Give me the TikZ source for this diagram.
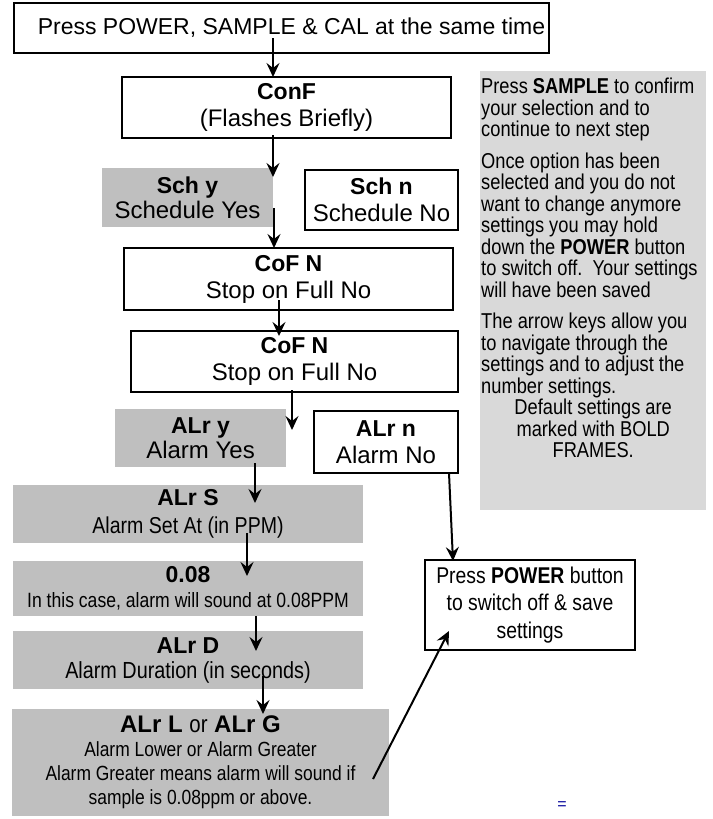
\documentclass[tikz,border=0pt]{standalone}
\usepackage{fontspec}
\setmainfont{Liberation Sans}
\newfontfamily\narrowfont[FakeStretch=0.85]{Liberation Sans}
\usepackage{xcolor}
\usetikzlibrary{arrows.meta,backgrounds}
\definecolor{boxgray}{RGB}{191,191,191}
\definecolor{panelgray}{RGB}{217,217,217}
\newcommand{\hd}[1]{{\normalfont\fontsize{23}{27}\selectfont\bfseries #1}}

\begin{document}
\begin{tikzpicture}[x=1pt,y=-1pt,
   box/.style={draw,line width=2.5pt,fill=white,inner sep=0pt,outer sep=0pt,align=center,
     font=\fontsize{24}{27}\selectfont},
   gbox/.style={fill=boxgray,inner sep=0pt,outer sep=0pt,align=center,
     font=\fontsize{24}{25}\selectfont},
   arr/.style={-{Stealth[length=14pt,width=13pt,inset=5pt]},line width=2pt}]

 \useasboundingbox (0,0) rectangle (712,819);

 % main column
 \node[box,minimum width=535pt,minimum height=50pt,font=\fontsize{23}{27}\selectfont] (start) at (281.5,28)
   {\hspace*{20pt}Press POWER, SAMPLE \& CAL at the same time};
 \node[box,minimum width=329pt,minimum height=61pt] (conf) at (286.5,107.5) {\hd{ConF}\\(Flashes Briefly)};
 \node[gbox,minimum width=171pt,minimum height=59pt] (schy) at (187.5,197.5) {\hd{Sch y}\\Schedule Yes};
 \node[box,minimum width=153pt,minimum height=60pt] (schn) at (381.5,200) {\hd{Sch n}\\Schedule No};
 \node[box,minimum width=329pt,minimum height=62pt] (cof1) at (288.5,279) {\hd{CoF N}\\Stop on Full No};
 \node[box,minimum width=327pt,minimum height=61pt] (cof2) at (294.5,361.5) {\hd{CoF N}\\Stop on Full No};
 \node[gbox,minimum width=171pt,minimum height=58pt] (alry) at (200.5,438) {\hd{ALr y}\\Alarm Yes};
 \node[box,minimum width=144pt,minimum height=62pt] (alrn) at (386,442) {\hd{ALr n}\\Alarm No};
 \node[gbox,minimum width=350pt,minimum height=58pt,font=\narrowfont\fontsize{23}{28}\selectfont] (alrs) at (188,514)
   {\hd{ALr S}\\Alarm Set At (in PPM)};
 \node[gbox,minimum width=350pt,minimum height=55pt,font=\narrowfont\fontsize{20.7}{25}\selectfont] (val) at (188,588.5)
   {\hd{0.08}\\In this case, alarm will sound at 0.08PPM};
 \node[gbox,minimum width=350pt,minimum height=58pt,font=\narrowfont\fontsize{23.3}{25}\selectfont] (alrd) at (188,660)
   {\hd{ALr D}\\Alarm Duration (in seconds)};
 \node[gbox,minimum width=377pt,minimum height=107pt,font=\narrowfont\fontsize{20.5}{24}\selectfont] (alrl) at (200.5,762.5)
   {{\normalfont\fontsize{24}{27}\selectfont\textbf{ALr L} {\narrowfont or} \textbf{ALr G}}\\
    Alarm Lower or Alarm Greater\\
    Alarm Greater means alarm will sound if\\
    sample is 0.08ppm or above.};
 \node[box,minimum width=210pt,minimum height=90pt,font=\narrowfont\fontsize{22.8}{27.5}\selectfont] (power) at (530,605)
   {Press \textbf{POWER} button\\to switch off \& save\\settings};

 % side notes
 \node[anchor=north west,text width=224pt,inner xsep=1pt,inner ysep=7pt,align=flush left,
   font=\narrowfont\fontsize{21.5}{21.5}\selectfont] (notes) at (480,71)
   {Press \textbf{SAMPLE} to confirm\\
    your selection and to\\
    continue to next step\\[10pt]
    Once option has been\\
    selected and you do not\\
    want to change anymore\\
    settings you may hold\\
    down the \textbf{POWER} button\\
    to switch off.\ \ Your settings\\
    will have been saved\\[10pt]
    The arrow keys allow you\\
    to navigate through the\\
    settings and to adjust the\\
    number settings.\par
    {\centering Default settings are\\ marked with BOLD\\ FRAMES.\par}};
 \begin{scope}[on background layer]
  \fill[panelgray] (notes.north west) rectangle (706,510);
 \end{scope}

 \node[text=blue!60!black,font=\fontsize{16}{16}\selectfont] (mark) at (562,806) {=};

 % arrows
 \draw[arr] ([xshift=-8.5pt,yshift=15pt]start.south) -- ([xshift=-13.5pt]conf.north);
 \draw[arr] ([xshift=-13.5pt,yshift=3pt]conf.south) -- ([yshift=-9pt]schy.north east);
 \draw[arr] ([xshift=1pt,yshift=19pt]schy.south east) -- ([xshift=-14.5pt]cof1.north);
 \draw[arr] ([xshift=-9.5pt,yshift=10pt]cof1.south) -- ([xshift=-15.5pt,yshift=-5pt]cof2.north);
 \draw[arr] ([xshift=-2.5pt,yshift=2pt]cof2.south) -- ([xshift=6pt,yshift=8pt]alry.east);
 \draw[arr] ([xshift=54.5pt,yshift=4pt]alry.south) -- ([xshift=67pt,yshift=-18pt]alrs.north);
 \draw[arr] ([xshift=59pt,yshift=10pt]alrs.south) -- ([xshift=59pt,yshift=-15pt]val.north);
 \draw[arr] ([xshift=68pt]val.south) -- ([xshift=68pt,yshift=-20pt]alrd.north);
 \draw[arr] ([xshift=75pt,yshift=13pt]alrd.south) -- ([xshift=62.5pt,yshift=-5pt]alrl.north);
 \draw[arr] ([xshift=-16pt,yshift=-16.5pt]alrl.east) -- ([xshift=24pt,yshift=19pt]power.south west);
 \draw[arr] ([xshift=63pt]alrn.south) -- ([xshift=28pt,yshift=-1pt]power.north west);

\end{tikzpicture}
\end{document}
